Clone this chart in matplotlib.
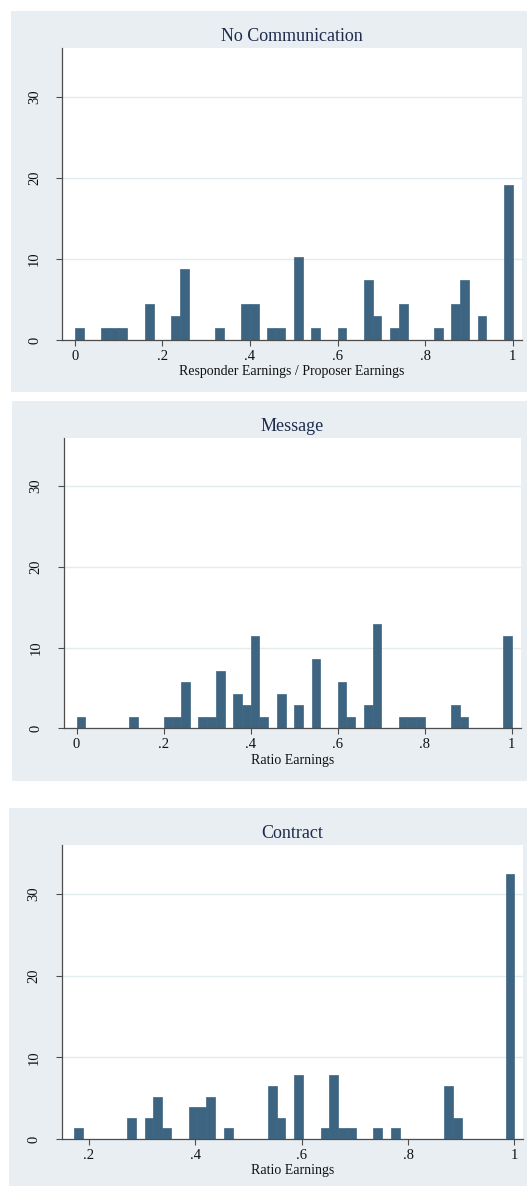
import numpy as np
import matplotlib
matplotlib.use("Agg")
from matplotlib import pyplot as plt
from matplotlib.patches import Rectangle

# histogram percents, 50 bins per panel
titles = ["No Communication", "Message", "Contract"]
xlabels = ["Responder Earnings / Proposer Earnings", "Ratio Earnings", "Ratio Earnings"]

nocomm_start, nocomm_width = 0.0, 0.02
nocomm_pct = [1.47, 0, 0, 1.47, 1.47, 1.47, 0, 0, 4.41, 0,
              0, 2.94, 8.82, 0, 0, 0, 1.47, 0, 0, 4.41,
              4.41, 0, 1.47, 1.47, 0, 10.29, 0, 1.47, 0, 0,
              1.47, 0, 0, 7.35, 2.94, 0, 1.47, 4.41, 0, 0,
              0, 1.47, 0, 4.41, 7.35, 0, 2.94, 0, 0, 19.12]

message_start, message_width = 0.0, 0.02
message_pct = [1.43, 0, 0, 0, 0, 0, 1.43, 0, 0, 0,
               1.43, 1.43, 5.71, 0, 1.43, 1.43, 7.14, 0, 4.29, 2.86,
               11.43, 1.43, 0, 4.29, 0, 2.86, 0, 8.57, 0, 0,
               5.71, 1.43, 0, 2.86, 12.86, 0, 0, 1.43, 1.43, 1.43,
               0, 0, 0, 2.86, 1.43, 0, 0, 0, 0, 11.43]

contract_start, contract_width = 0.172, 0.01656
contract_pct = [1.30, 0, 0, 0, 0, 0, 2.60, 0, 2.60, 5.19,
                1.30, 0, 0, 3.90, 3.90, 5.19, 0, 1.30, 0, 0,
                0, 0, 6.49, 2.60, 0, 7.79, 0, 0, 1.30, 7.79,
                1.30, 1.30, 0, 0, 1.30, 0, 1.30, 0, 0, 0,
                0, 0, 6.49, 2.60, 0, 0, 0, 0, 0, 32.47]

xticks_full = [0, 0.2, 0.4, 0.6, 0.8, 1]
xticklabels_full = ["0", ".2", ".4", ".6", ".8", "1"]
xticks_contract = [0.2, 0.4, 0.6, 0.8, 1]
xticklabels_contract = [".2", ".4", ".6", ".8", "1"]
yticks = [0, 10, 20, 30]

W, H = 527, 1186
bg = "#E8EEF2"
bar_color = "#3D6582"

plt.rcParams["font.family"] = ["Liberation Serif", "DejaVu Serif"]

fig = plt.figure(figsize=(W / 100, H / 100), dpi=100, facecolor="white")

# gray panel boxes (px: left, top, right, bottom)
boxes = [(11, 11, 527, 392), (12, 401, 527, 781), (9, 808, 527, 1186)]
for (x0, y0, x1, y1) in boxes:
    fig.add_artist(Rectangle((x0 / W, 1 - y1 / H), (x1 - x0) / W, (y1 - y0) / H,
                             transform=fig.transFigure, facecolor=bg,
                             edgecolor="none", zorder=-10))

# plot areas in px
areas = [(62.3, 48.3, 521.7, 340), (64, 437.7, 521, 728.3), (61.7, 845, 522.7, 1139)]
xlims = [(-0.029, 1.021), (-0.029, 1.021), (0.1487, 1.0157)]

panels = [(nocomm_start, nocomm_width, nocomm_pct),
          (message_start, message_width, message_pct),
          (contract_start, contract_width, contract_pct)]

for i, (start, width, pct) in enumerate(panels):
    x0, y0, x1, y1 = areas[i]
    ax = fig.add_axes([x0 / W, 1 - y1 / H, (x1 - x0) / W, (y1 - y0) / H])
    ax.set_zorder(5)
    ax.set_facecolor("white")
    edges = start + width * np.arange(len(pct) + 1)
    ax.hist(edges[:-1], bins=edges, weights=pct, color=bar_color,
            edgecolor=bar_color, linewidth=0.5, zorder=2)
    ax.set_xlim(*xlims[i])
    ax.set_ylim(0, 36)
    ax.set_yticks(yticks)
    ax.set_yticklabels([str(v) for v in yticks], rotation=90, va="center")
    if i < 2:
        ax.set_xticks(xticks_full)
        ax.set_xticklabels(xticklabels_full)
    else:
        ax.set_xticks(xticks_contract)
        ax.set_xticklabels(xticklabels_contract)
    ax.yaxis.grid(True, color="#E2EBEE", linewidth=1.0)
    ax.set_axisbelow(True)
    for s in ["top", "right"]:
        ax.spines[s].set_visible(False)
    for s in ["left", "bottom"]:
        ax.spines[s].set_color("#4D4D4D")
        ax.spines[s].set_linewidth(0.9)
    ax.tick_params(axis="both", length=4.3, width=0.8, color="#4D4D4D",
                   labelsize=10.5, labelcolor="#111111")
    ax.tick_params(axis="y", pad=11)
    ax.tick_params(axis="x", pad=3)
    ax.set_title(titles[i], fontsize=13, color="#1F2C4E", pad=5)
    ax.set_xlabel(xlabels[i], fontsize=10, color="#111111", labelpad=1.5)

fig.savefig("out.png", dpi=100, facecolor="white")
